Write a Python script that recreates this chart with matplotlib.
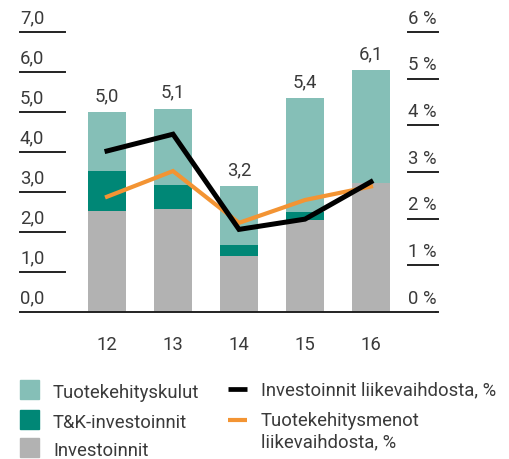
import matplotlib
matplotlib.use("Agg")
import matplotlib.pyplot as plt
from matplotlib.patches import Rectangle
from matplotlib.lines import Line2D
import numpy as np

plt.rcParams['font.family'] = ['Roboto', 'DejaVu Sans']
plt.rcParams['font.weight'] = 'normal'

years = ["12", "13", "14", "15", "16"]
investoinnit = [2.52, 2.58, 1.40, 2.30, 3.22]
tk_investoinnit = [1.00, 0.60, 0.28, 0.20, 0.00]
tuotekehityskulut = [1.48, 1.90, 1.47, 2.85, 2.83]
totals_label = ["5,0", "5,1", "3,2", "5,4", "6,1"]
inv_pct = [3.45, 3.81, 1.77, 1.99, 2.79]
tk_pct = [2.47, 3.02, 1.91, 2.40, 2.69]
left_ticks = [0, 1, 2, 3, 4, 5, 6, 7]
left_ticklabels = ["0,0", "1,0", "2,0", "3,0", "4,0", "5,0", "6,0", "7,0"]
right_ticks = [0, 1, 2, 3, 4, 5, 6]
right_ticklabels = ["0 %", "1 %", "2 %", "3 %", "4 %", "5 %", "6 %"]
bar_labels = ["Tuotekehityskulut", "T&K-investoinnit", "Investoinnit"]
line_labels = ["Investoinnit liikevaihdosta, %", "Tuotekehitysmenot\nliikevaihdosta, %"]

C_LIGHT = "#85BFB7"
C_DARK = "#008776"
C_GRAY = "#B2B2B2"
C_ORANGE = "#F39433"
C_TEXT = "#3A3A3A"
FS = 13.3

W, H = 509, 459
fig = plt.figure(figsize=(W / 100, H / 100), dpi=100)
ax = fig.add_axes([20 / W, (H - 312) / H, 416 / W, 280 / H])
ax2 = ax.twinx()

x = np.arange(len(years))
bw = 38 / 66
ax.bar(x, investoinnit, bw, color=C_GRAY, zorder=2)
b2 = np.array(investoinnit)
ax.bar(x, tk_investoinnit, bw, bottom=b2, color=C_DARK, zorder=2)
b3 = b2 + np.array(tk_investoinnit)
ax.bar(x, tuotekehityskulut, bw, bottom=b3, color=C_LIGHT, zorder=2)
tot = b3 + np.array(tuotekehityskulut)
for xi, t, lab in zip(x, tot, totals_label):
    ax.annotate(lab, (xi, t), xytext=(0, 5), textcoords="offset points",
                ha="center", va="bottom", fontsize=FS, color=C_TEXT)

ax.set_xlim(-87 / 66, -87 / 66 + 416 / 66)
ax.set_ylim(0, 7)
ax2.set_ylim(0, 6)

ax2.plot(x, tk_pct, color=C_ORANGE, lw=3.0, solid_joinstyle="miter", zorder=3)
ax2.plot(x, inv_pct, color="black", lw=3.6, solid_joinstyle="miter", zorder=4)

for a in (ax, ax2):
    for s in a.spines.values():
        s.set_visible(False)
    a.set_yticks([])
    a.tick_params(length=0)
ax.set_xticks([])

# baseline
ax.plot([0, 1], [0, 0], transform=ax.transAxes, color="#222222", lw=1.4,
        clip_on=False, zorder=5)

ytr = ax.get_yaxis_transform()
for v, lab in zip(left_ticks, left_ticklabels):
    if v > 0:
        ax.plot([0, 45 / 416], [v, v], transform=ytr, color="#222222", lw=1.4,
                clip_on=False)
    ax.annotate(lab, (0, v), xycoords=ytr, xytext=(0, 3), textcoords="offset points",
                ha="left", va="bottom", fontsize=FS, color=C_TEXT)
ytr2 = ax2.get_yaxis_transform()
for v, lab in zip(right_ticks, right_ticklabels):
    if v > 0:
        ax2.plot([388 / 416, 418 / 416], [v, v], transform=ytr2, color="#222222",
                 lw=1.4, clip_on=False)
    else:
        ax2.plot([416 / 416, 418 / 416], [v, v], transform=ytr2, color="#222222",
                 lw=1.4, clip_on=False)
    ax2.annotate(lab, (388 / 416, v), xycoords=ytr2, xytext=(0, 3),
                 textcoords="offset points", ha="left", va="bottom",
                 fontsize=FS, color=C_TEXT)

xtr = ax.get_xaxis_transform()
for xi, lab in zip(x, years):
    ax.annotate(lab, (xi, 0), xycoords=xtr, xytext=(0, -24), textcoords="offset points",
                ha="center", va="center", fontsize=FS, color=C_TEXT)

# manual legend (figure pixel positions)
def fy(py):
    return 1 - py / H

bar_colors = [C_LIGHT, C_DARK, C_GRAY]
for i, (c, lab) in enumerate(zip(bar_colors, bar_labels)):
    top = 380 + 30 * i - (2 if i == 2 else 0)
    fig.patches.append(Rectangle((20 / W, fy(top + 19)), 19 / W, 19 / H, color=c,
                                 transform=fig.transFigure, figure=fig))
    fig.text(53 / W, fy(top + 18), lab, fontsize=FS, color=C_TEXT, va="baseline",
             ha="left")

line_colors = ["black", C_ORANGE]
line_lw = [3.4, 3.0]
for i, (c, lw, lab) in enumerate(zip(line_colors, line_lw, line_labels)):
    yc = 389 + 30.5 * i
    fig.lines.append(Line2D([228 / W, 247 / W], [fy(yc), fy(yc)], color=c, lw=lw,
                            transform=fig.transFigure, figure=fig,
                            solid_capstyle="butt"))
    fig.text(261 / W, fy(yc - 8), lab, fontsize=FS, color=C_TEXT, va="top",
             ha="left", linespacing=1.25)

fig.savefig("out.png", dpi=100)
